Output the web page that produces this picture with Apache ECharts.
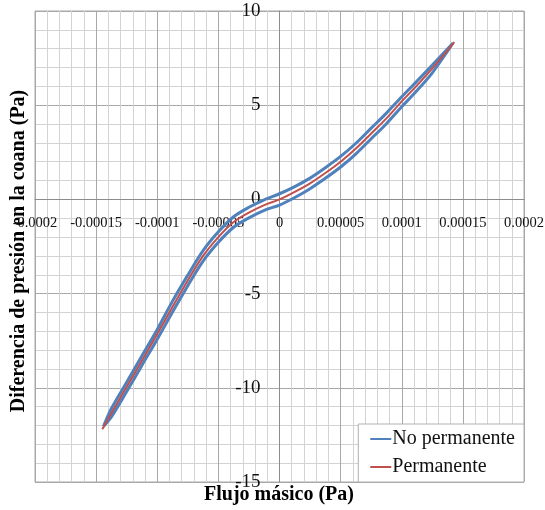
<!DOCTYPE html>
<html>
<head>
<meta charset="utf-8">
<script src="https://cdn.jsdelivr.net/npm/echarts@6/dist/echarts.min.js"></script>
<style>
  html, body { margin: 0; padding: 0; background: #fff; }
  #main { width: 545px; height: 510px; }
</style>
</head>
<body>
<div id="main"></div>
<script>
// flujo masico (x) y diferencia de presion (y)
var redX = [-0.000145, -0.0001375, -0.000125, -0.0001125, -0.0001, -0.0000875, -0.000075, -0.0000625,
  -0.00005, -0.0000375, -0.000025, -0.0000125, 0, 0.0000125, 0.000025, 0.0000375, 0.00005,
  0.0000625, 0.000075, 0.0000875, 0.0001, 0.0001125, 0.000125, 0.000143];
var redY = [-12.2, -11.35, -9.95, -8.55, -7.15, -5.7, -4.3, -3.0,
  -2.0, -1.2, -0.7, -0.3, 0.0, 0.4, 0.85, 1.4, 2.0,
  2.7, 3.5, 4.3, 5.2, 6.05, 6.95, 8.35];

// ciclo "no permanente": rama superior y luego rama inferior de vuelta
var blueX = [-0.000144, -0.0001375, -0.000125, -0.0001125, -0.0001, -0.0000875, -0.000075, -0.0000625,
  -0.00005, -0.0000375, -0.000025, -0.0000125, 0, 0.0000125, 0.000025, 0.0000375, 0.00005,
  0.0000625, 0.000075, 0.0000875, 0.0001, 0.0001125, 0.000125, 0.000142,
  0.000125, 0.0001125, 0.0001, 0.0000875, 0.000075, 0.0000625, 0.00005, 0.0000375, 0.000025,
  0.0000125, 0, -0.0000125, -0.000025, -0.0000375, -0.00005, -0.0000625, -0.000075,
  -0.0000875, -0.0001, -0.0001125, -0.000125, -0.0001375, -0.000144];
var blueY = [-12.05, -11.1, -9.7, -8.3, -6.9, -5.4, -4.02, -2.72,
  -1.72, -0.92, -0.42, -0.02, 0.3, 0.68, 1.13, 1.68, 2.28,
  2.98, 3.78, 4.58, 5.45, 6.28, 7.13, 8.3,
  6.72, 5.78, 4.92, 4.02, 3.22, 2.42, 1.72, 1.12, 0.57,
  0.1, -0.3, -0.58, -0.98, -1.48, -2.28, -3.28, -4.58,
  -5.98, -7.42, -8.8, -10.2, -11.55, -12.05];

var xTicks = ['-0.0002', '-0.00015', '-0.0001', '-0.00005', '0', '0.00005', '0.0001', '0.00015', '0.0002'];
var yTicks = ['-15', '-10', '-5', '0', '5', '10'];

var serieNames = ['No permanente', 'Permanente'];

var serif = '"Liberation Serif", "Times New Roman", serif';

function pares(xs, ys) {
  return xs.map(function (x, i) { return [x, ys[i]]; });
}

// los ejes se cruzan en cero: se desplazan al centro del area
var gLeft = 35, gRight = 21, gTop = 11, gBottom = 28;
var gW = 545 - gLeft - gRight, gH = 510 - gTop - gBottom;
var xOff = -(gW * 0.0002 / 0.0004);
var yOff = -(gH * 15 / 25);

var chart = echarts.init(document.getElementById('main'));
var option = {
  animation: false,
  grid: {
    left: gLeft, right: gRight, top: gTop, bottom: gBottom,
    show: true, borderColor: '#a8a8a8', borderWidth: 1,
    containLabel: false, outerBoundsMode: 'none'
  },
  xAxis: {
    type: 'value', position: 'bottom', offset: yOff,
    min: -0.0002, max: 0.0002, interval: 0.00005,
    axisLine: { onZero: false, lineStyle: { color: '#8c8c8c' } },
    axisTick: { show: false },
    axisLabel: {
      margin: 16, color: '#111', fontFamily: serif, fontSize: 14.5,
      showMinLabel: true, showMaxLabel: true,
      formatter: function (v) { return xTicks[Math.round((v + 0.0002) / 0.00005)]; }
    },
    splitLine: { lineStyle: { color: '#a8a8a8' } },
    minorTick: { show: false, splitNumber: 5 },
    minorSplitLine: { show: true, lineStyle: { color: '#d3d3d3' } }
  },
  yAxis: {
    type: 'value', position: 'left', offset: xOff,
    min: -15, max: 10, interval: 5,
    axisLine: { show: true, onZero: false, lineStyle: { color: '#8c8c8c' } },
    axisTick: { show: false },
    axisLabel: {
      margin: 19, color: '#111', fontFamily: serif, fontSize: 19,
      formatter: function (v) { return yTicks[Math.round((v + 15) / 5)]; }
    },
    splitLine: { lineStyle: { color: '#a8a8a8' } },
    minorTick: { show: false, splitNumber: 5 },
    minorSplitLine: { show: true, lineStyle: { color: '#d3d3d3' } }
  },
  legend: {
    data: serieNames,
    orient: 'vertical',
    right: 21, bottom: 28,
    backgroundColor: '#fff',
    borderColor: '#b0b0b0', borderWidth: 1,
    padding: [5, 9, 5, 12],
    itemGap: 8,
    icon: 'rect', itemWidth: 21, itemHeight: 2,
    textStyle: { fontFamily: serif, fontSize: 20, color: '#111', lineHeight: 20, padding: [0, 0, 0, -4] }
  },
  graphic: [
    {
      type: 'text', x: 19, y: 251, rotation: Math.PI / 2,
      style: {
        text: 'Diferencia de presión en la coana (Pa)',
        font: 'bold 20px ' + serif, fill: '#000',
        align: 'center', verticalAlign: 'middle'
      }
    },
    {
      type: 'text', x: 279, y: 495,
      style: {
        text: 'Flujo másico (Pa)',
        font: 'bold 20px ' + serif, fill: '#000',
        align: 'center', verticalAlign: 'middle'
      }
    }
  ],
  series: [
    {
      name: serieNames[0], type: 'line', data: pares(blueX, blueY),
      smooth: 0.3, showSymbol: false, symbol: 'none',
      lineStyle: { color: '#4F81BD', width: 3 }, itemStyle: { color: '#4F81BD' }
    },
    {
      name: serieNames[1], type: 'line', data: pares(redX, redY),
      smooth: 0.3, showSymbol: false, symbol: 'none',
      lineStyle: { color: '#C0504D', width: 2 }, itemStyle: { color: '#C0504D' }
    }
  ]
};
chart.setOption(option);
</script>
</body>
</html>
